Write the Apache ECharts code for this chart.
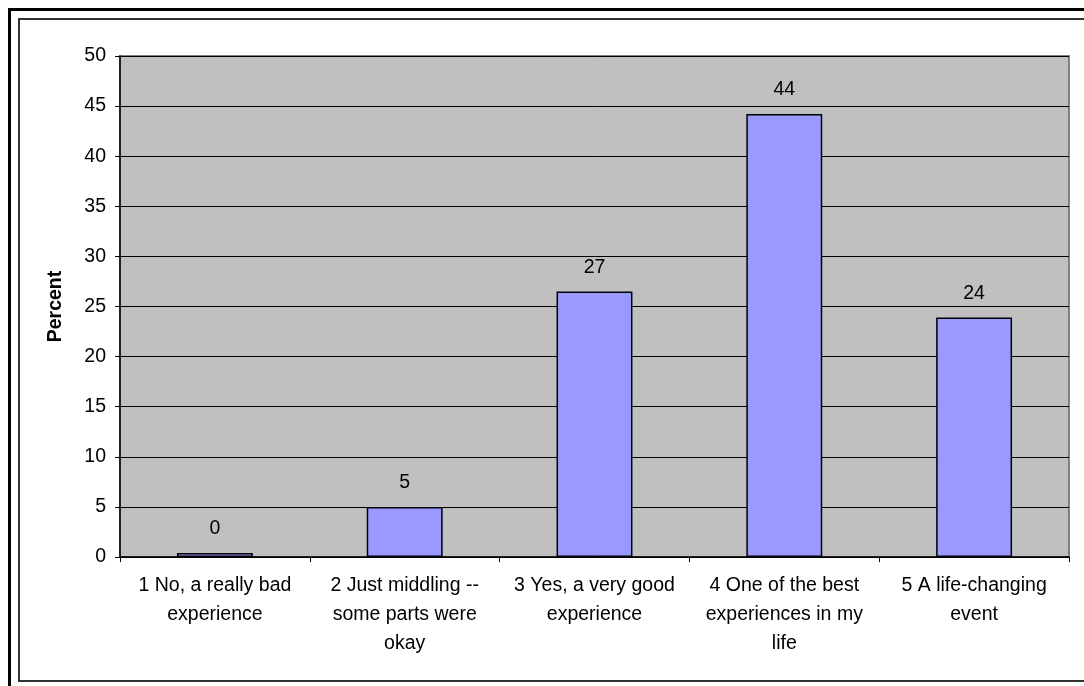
<!DOCTYPE html>
<html>
<head>
<meta charset="utf-8">
<script src="https://cdn.jsdelivr.net/npm/echarts@6/dist/echarts.min.js"></script>
<style>
html,body{margin:0;padding:0;background:#fff;}
#chart{width:1084px;height:686px;}
</style>
</head>
<body>
<div id="chart"></div>
<script>
var categories = [
  "1 No, a really bad\nexperience",
  "2 Just middling --\nsome parts were\nokay",
  "3 Yes, a very good\nexperience",
  "4 One of the best\nexperiences in my\nlife",
  "5 A life-changing\nevent"
];
var percentValues = [0.4, 5, 26.5, 44.2, 23.9];
var yAxisName = "Percent";

var FONT = "'Liberation Sans', Arial, sans-serif";
var chart = echarts.init(document.getElementById('chart'), null, {renderer: 'canvas'});
chart.setOption({
  animation: false,
  backgroundColor: '#ffffff',
  graphic: [
    {type: 'rect', shape: {x: 9.5, y: 9.5, width: 1200, height: 800},
     style: {fill: 'none', stroke: '#000', lineWidth: 3}, z: 100},
    {type: 'rect', shape: {x: 19, y: 19, width: 1200, height: 662},
     style: {fill: 'none', stroke: '#333', lineWidth: 2}, z: 100}
  ],
  grid: {
    left: 120, top: 56, right: 15, bottom: 129,
    show: true, backgroundColor: '#C0C0C0', borderColor: '#808080', borderWidth: 2
  },
  xAxis: {
    type: 'category',
    data: categories,
    boundaryGap: true,
    axisLine: {lineStyle: {color: '#000', width: 1.5}},
    axisTick: {show: true, alignWithLabel: false, length: 5, lineStyle: {color: '#000'}},
    axisLabel: {
      interval: 0, color: '#000', fontFamily: FONT, fontSize: 19.5,
      lineHeight: 29, margin: 14, align: 'center'
    },
    splitLine: {show: false}
  },
  yAxis: {
    type: 'value',
    min: 0, max: 50, interval: 5,
    name: yAxisName,
    nameLocation: 'middle',
    nameRotate: 90,
    nameGap: 54,
    nameTextStyle: {color: '#000', fontFamily: FONT, fontSize: 19.5, fontWeight: 'bold'},
    axisLine: {show: true, lineStyle: {color: '#000', width: 1.5}},
    axisTick: {show: true, length: 5, lineStyle: {color: '#000'}},
    axisLabel: {color: '#000', fontFamily: FONT, fontSize: 19.5, margin: 14},
    splitLine: {show: true, lineStyle: {color: '#000', width: 1}}
  },
  series: [{
    type: 'bar',
    data: percentValues,
    barWidth: '40%',
    itemStyle: {color: '#9999FF', borderColor: '#000', borderWidth: 1.5},
    label: {
      show: true, position: 'top', distance: 14,
      color: '#000', fontFamily: FONT, fontSize: 19.5,
      formatter: function (p) { return Math.round(p.value); }
    }
  }]
});
</script>
</body>
</html>
